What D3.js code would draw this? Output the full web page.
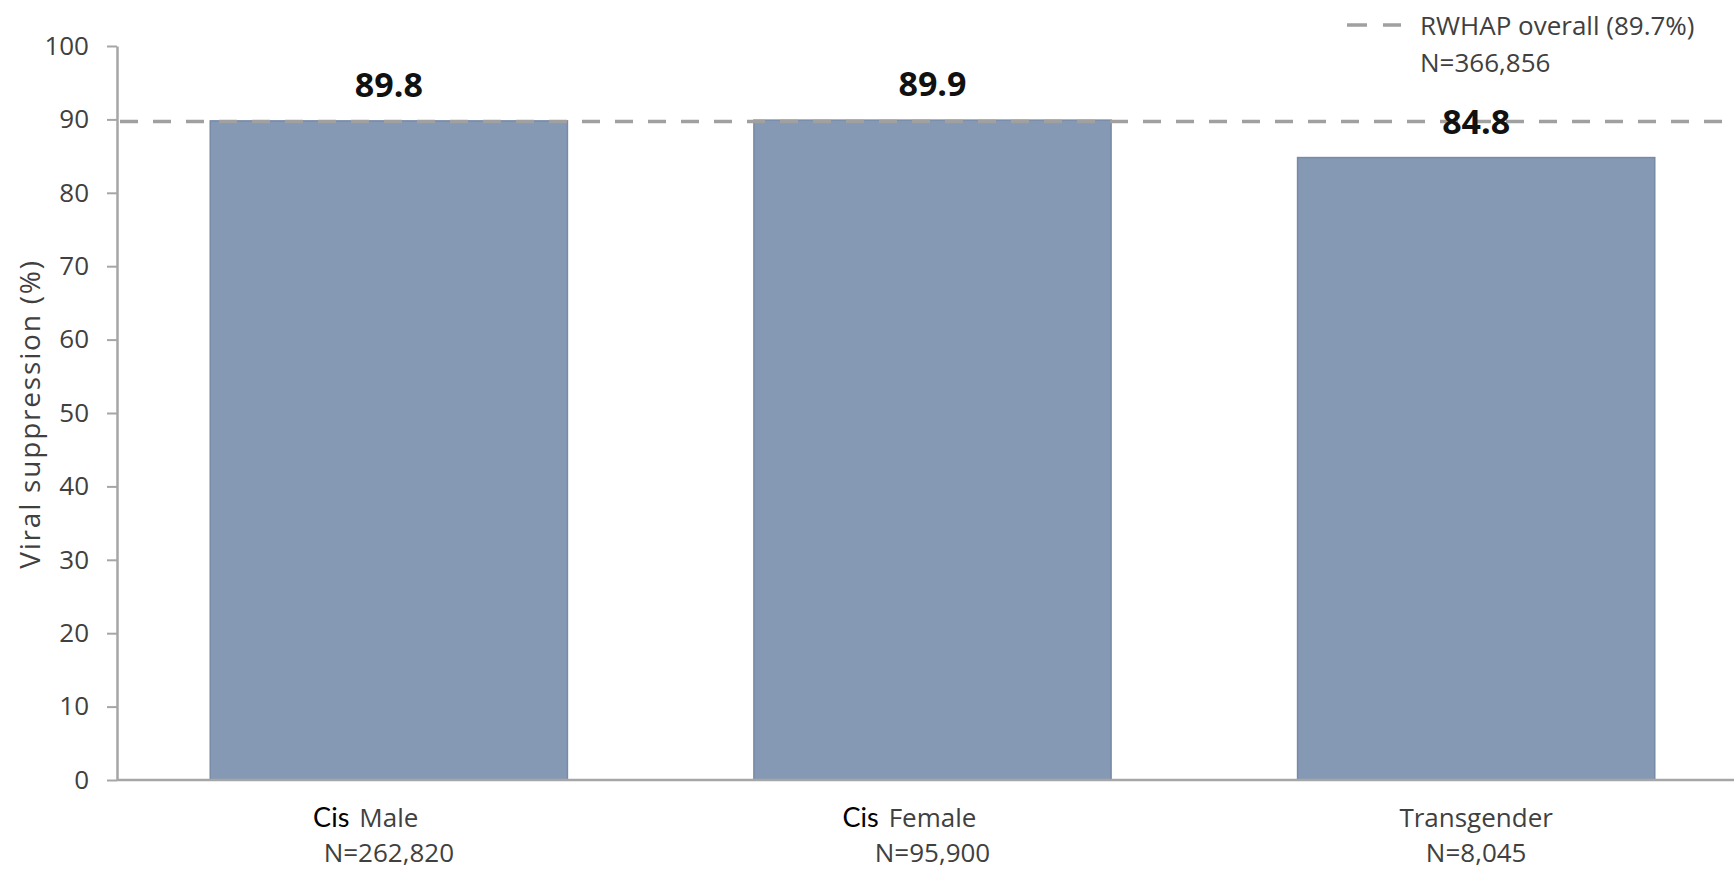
<!DOCTYPE html>
<html>
<head>
<meta charset="utf-8">
<script src="https://cdn.jsdelivr.net/npm/d3@7"></script>
<style>
  html, body { margin: 0; padding: 0; background: #ffffff; }
  svg { display: block; }
</style>
</head>
<body>
<svg id="chart" width="1734" height="871"></svg>
<script>
// Viral suppression by gender
const categories = ["Male", "Female", "Transgender"];
const prefixes = ["Cis", "Cis", ""];
const counts = ["N=262,820", "N=95,900", "N=8,045"];
const values = [89.8, 89.9, 84.8];
const overallValue = 89.7;
const legendLines = ["RWHAP overall (89.7%)", "N=366,856"];
const yTicks = [0, 10, 20, 30, 40, 50, 60, 70, 80, 90, 100];
const yTitle = "Viral suppression (%)";

const svg = d3.select("#chart");
const W = 1734;

const x = d3.scaleBand()
  .domain(categories)
  .range([117, 1748])
  .paddingInner(0.343)
  .paddingOuter(0.1715);

const y = d3.scaleLinear().domain([0, 100]).range([780, 46]);

const textFont = "'Open Sans', sans-serif";
const textColor = "#404040";
const axisColor = "#a6a6a6";

// bars
svg.append("g").selectAll("rect")
  .data(values)
  .join("rect")
  .attr("x", (d, i) => x(categories[i]))
  .attr("y", d => y(d))
  .attr("width", x.bandwidth())
  .attr("height", d => y(0) - y(d))
  .attr("fill", "#8599b5")
  .attr("stroke", "#778aa6")
  .attr("stroke-width", 1.5);

// x baseline
svg.append("line")
  .attr("x1", 117).attr("x2", W)
  .attr("y1", y(0)).attr("y2", y(0))
  .attr("stroke", axisColor)
  .attr("stroke-width", 2.5);

// y axis
const yAxis = svg.append("g")
  .attr("transform", "translate(117,0)")
  .call(d3.axisLeft(y).tickValues(yTicks).tickSize(10).tickSizeOuter(0).tickPadding(18));
yAxis.select(".domain").attr("stroke", axisColor).attr("stroke-width", 2.5);
yAxis.selectAll(".tick line").attr("stroke", axisColor).attr("stroke-width", 2);
yAxis.selectAll(".tick text")
  .attr("font-family", textFont)
  .attr("font-size", 26)
  .attr("fill", textColor);

// y title
svg.append("text")
  .attr("transform", `translate(40,${(258 + 570) / 2}) rotate(-90)`)
  .attr("text-anchor", "middle")
  .attr("font-family", textFont)
  .attr("font-size", 28)
  .attr("letter-spacing", 1.8)
  .attr("fill", textColor)
  .text(yTitle);

// overall reference line
svg.append("line")
  .attr("x1", 120).attr("x2", W)
  .attr("y1", y(overallValue)).attr("y2", y(overallValue))
  .attr("stroke", "#a0a0a0")
  .attr("stroke-width", 3.5)
  .attr("stroke-dasharray", "18,15");

// value labels
svg.append("g").selectAll("text")
  .data(values)
  .join("text")
  .attr("x", (d, i) => x(categories[i]) + x.bandwidth() / 2)
  .attr("y", d => y(d) - 24)
  .attr("text-anchor", "middle")
  .attr("font-family", textFont)
  .attr("font-weight", 700)
  .attr("font-size", 34)
  .attr("fill", "#111111")
  .text(d => d.toFixed(1));

// category labels
const catG = svg.append("g");
categories.forEach((c, i) => {
  const cx = x(c) + x.bandwidth() / 2;
  const name = catG.append("text")
    .attr("x", cx).attr("y", 827)
    .attr("text-anchor", "middle")
    .attr("font-family", textFont)
    .attr("font-size", 26)
    .attr("fill", textColor)
    .text(c);
  if (prefixes[i]) {
    const w = name.node().getComputedTextLength();
    catG.append("text")
      .attr("x", cx - w / 2 - 10).attr("y", 827)
      .attr("text-anchor", "end")
      .attr("font-family", "Lato, sans-serif")
      .attr("font-size", 27)
      .attr("fill", "#000000")
      .text(prefixes[i]);
  }
  catG.append("text")
    .attr("x", cx).attr("y", 862)
    .attr("text-anchor", "middle")
    .attr("font-family", textFont)
    .attr("font-size", 26)
    .attr("fill", textColor)
    .text(counts[i]);
});

// legend
const leg = svg.append("g");
leg.append("line")
  .attr("x1", 1347).attr("x2", 1401)
  .attr("y1", 25).attr("y2", 25)
  .attr("stroke", "#a0a0a0")
  .attr("stroke-width", 3.5)
  .attr("stroke-dasharray", "20,16");
leg.selectAll("text")
  .data(legendLines)
  .join("text")
  .attr("x", 1420)
  .attr("y", (d, i) => 35 + i * 37)
  .attr("font-family", textFont)
  .attr("font-size", 26)
  .attr("fill", textColor)
  .text(d => d);
</script>
</body>
</html>
